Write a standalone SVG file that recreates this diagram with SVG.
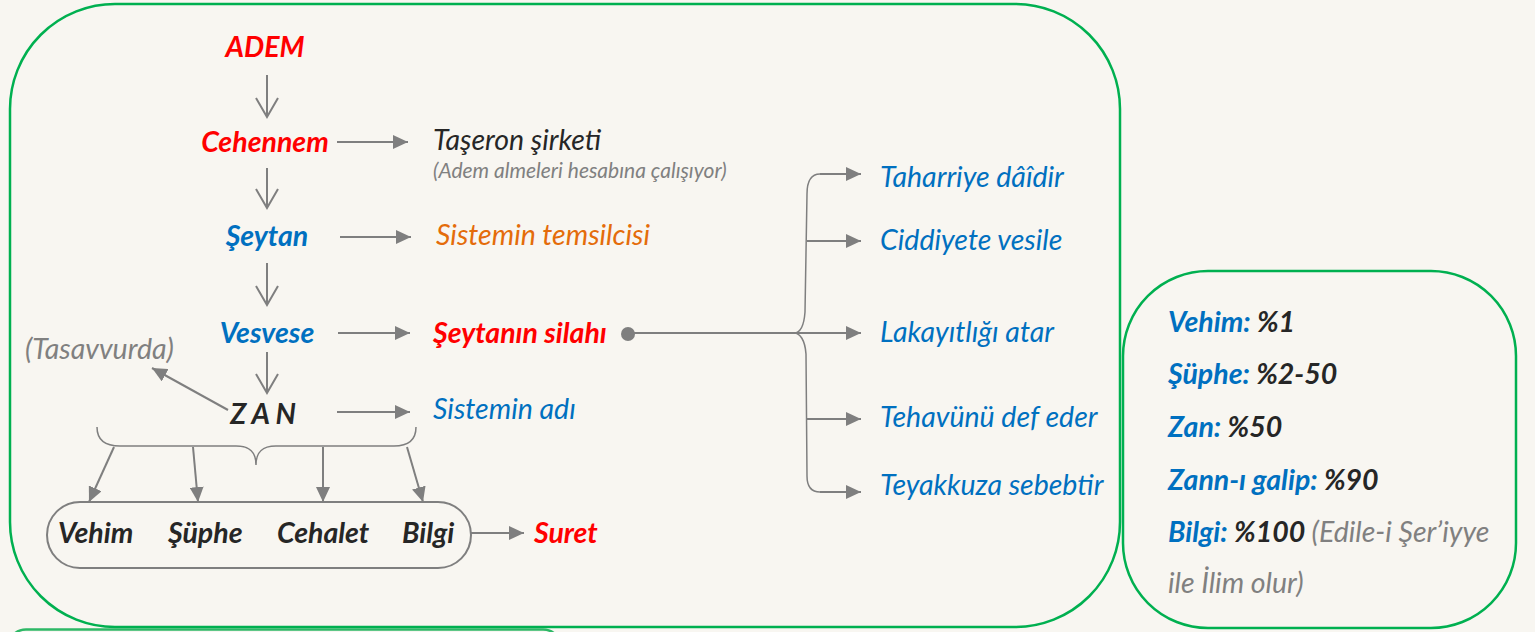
<svg xmlns="http://www.w3.org/2000/svg" width="1535" height="632" viewBox="0 0 1535 632">
<defs>
<marker id="tri" viewBox="0 0 15 14" refX="15" refY="7" markerWidth="15" markerHeight="14" markerUnits="userSpaceOnUse" orient="auto">
<path d="M0,0 L15,7 L0,14 z" fill="#7f7f7f"/>
</marker>
<marker id="vee" viewBox="0 0 20 22" refX="19" refY="11" markerWidth="20" markerHeight="22" markerUnits="userSpaceOnUse" orient="auto" style="overflow:visible">
<path d="M0,0 L19,11 L0,22" fill="none" stroke="#7f7f7f" stroke-width="2"/>
</marker>
</defs>
<style>
.t{font-family:Lato,"Open Sans","Liberation Sans",sans-serif;font-style:italic}
.b{font-weight:bold}
.big{font-size:28.5px}
.sm{font-size:21px}
.red{fill:#ff0000}
.blue{fill:#0070c0}
.blk{fill:#262626}
.gry{fill:#808080}
.org{fill:#e46c0a}
.box{fill:none;stroke:#00b050;stroke-width:2.5}
.ar{fill:none;stroke:#7f7f7f;stroke-width:2;marker-end:url(#tri)}
.dn{fill:none;stroke:#7f7f7f;stroke-width:2;marker-end:url(#vee)}
.br{fill:none;stroke:#7f7f7f;stroke-width:1.5}
</style>
<rect width="1535" height="632" fill="#f8f6f1"/>
<g id="frames">
<rect class="box" x="10" y="4" width="1110" height="623" rx="105" ry="105"/>
<rect class="box" x="1123" y="271" width="393" height="357" rx="85" ry="85"/>
<rect class="box" x="8" y="629.5" width="553" height="80" rx="18" ry="18" style="stroke:#2db866"/>
</g>
<g id="connectors">
<path class="dn" d="M267,75 V117"/>
<path class="dn" d="M267,168 V208"/>
<path class="dn" d="M267,263 V305"/>
<path class="dn" d="M267,352 V393"/>
<path class="ar" d="M337,142 H408"/>
<path class="ar" d="M340,237 H411"/>
<path class="ar" d="M338,333 H410"/>
<path class="ar" d="M337,412 H410"/>
<path class="ar" d="M228,410 L152,368"/>
<path class="br" d="M97,427 C97,439 104,446 120,446 L236,446 C250,446 256,452 256,465 C256,452 262,446 276,446 L394,446 C410,446 416,439 416,427"/>
<path class="ar" d="M114,447 L89,502"/>
<path class="ar" d="M193,447 L198,502"/>
<path class="ar" d="M323,447 L323,502"/>
<path class="ar" d="M407,447 L423,502"/>
<path class="ar" d="M471,533 H524"/>
<circle cx="628" cy="334" r="7" fill="#7f7f7f"/>
<path class="ar" d="M628,333 H861"/>
<path class="br" d="M820,174 C810,174 807,182 807,194 L805,312 C804,326 800,333 794,333 C800,333 805,340 806,354 L807,476 C807,487 811,492 820,492"/>
<path class="ar" d="M820,174 H861"/>
<path class="ar" d="M807,241 H861"/>
<path class="ar" d="M807,419 H861"/>
<path class="ar" d="M820,492 H861"/>
</g>
<g id="n-adem"><text class="t b big red" x="265" y="57" text-anchor="middle">ADEM</text></g>
<g id="n-cehennem"><text class="t b big red" x="265" y="152" text-anchor="middle">Cehennem</text></g>
<g id="n-taseron">
<text class="t big blk" x="433" y="150">Taşeron şirketi</text>
<text class="t sm gry" x="433" y="178">(Adem almeleri hesabına çalışıyor)</text>
</g>
<g id="n-seytan"><text class="t b big blue" x="267" y="246" text-anchor="middle">Şeytan</text></g>
<g id="n-temsilci"><text class="t big org" x="436" y="245">Sistemin temsilcisi</text></g>
<g id="n-vesvese"><text class="t b big blue" x="267" y="343" text-anchor="middle">Vesvese</text></g>
<g id="n-silah"><text class="t b big red" x="433" y="343">Şeytanın silahı</text></g>
<g id="n-tasavvur"><text class="t big gry" x="25" y="359">(Tasavvurda)</text></g>
<g id="n-zan"><text class="t b big blk" x="263" y="424" text-anchor="middle">Z A N</text></g>
<g id="n-sistemadi"><text class="t big blue" x="433" y="419">Sistemin adı</text></g>
<g id="n-pill">
<rect x="47" y="502" width="424" height="66" rx="33" ry="33" fill="none" stroke="#7f7f7f" stroke-width="2"/>
<text class="t b big blk" x="58" y="543">Vehim</text>
<text class="t b big blk" x="168" y="543">Şüphe</text>
<text class="t b big blk" x="277" y="543">Cehalet</text>
<text class="t b big blk" x="402" y="543">Bilgi</text>
</g>
<g id="n-suret"><text class="t b big red" x="534" y="543">Suret</text></g>
<g id="n-branches">
<text class="t big blue" x="880" y="187">Taharriye dâîdir</text>
<text class="t big blue" x="880" y="250">Ciddiyete vesile</text>
<text class="t big blue" x="880" y="342">Lakayıtlığı atar</text>
<text class="t big blue" x="880" y="427">Tehavünü def eder</text>
<text class="t big blue" x="880" y="495">Teyakkuza sebebtir</text>
</g>
<g id="n-legend">
<text class="t b big blue" x="1168" y="332">Vehim: <tspan class="blk">%1</tspan></text>
<text class="t b big blue" x="1168" y="384">Şüphe: <tspan class="blk">%2-50</tspan></text>
<text class="t b big blue" x="1168" y="437">Zan: <tspan class="blk">%50</tspan></text>
<text class="t b big blue" x="1168" y="490">Zann-ı galip: <tspan class="blk">%90</tspan></text>
<text class="t b big blue" x="1168" y="542">Bilgi: <tspan class="blk">%100</tspan> <tspan class="gry" font-weight="normal">(Edile-i Şer’iyye</tspan></text>
<text class="t big gry" x="1168" y="593">ile İlim olur)</text>
</g>
</svg>
